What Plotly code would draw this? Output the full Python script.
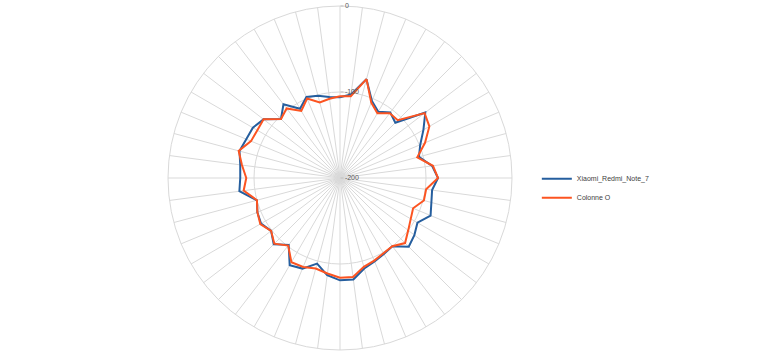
import plotly.graph_objects as go

categories = [str(i) for i in range(1, 49)]

xiaomi = [-106, -102, -81, -103, -111, -104, -109, -75, -88, -99, -105, -92,
          -86, -92, -90, -86, -96, -91, -87, -100, -98, -95, -91, -81,
          -81, -86, -97, -86, -83, -102, -91, -99, -94, -96, -100, -82,
          -84, -83, -79, -82, -83, -88, -103, -92, -107, -98, -101, -105]

colonne_o = [-105, -104, -81, -105, -113, -105, -105, -76, -80, -93, -107, -91,
             -86, -99, -99, -108, -105, -100, -93, -100, -99, -96, -93, -84,
             -84, -88, -91, -88, -87, -101, -92, -99, -93, -96, -100, -87,
             -91, -85, -78, -88, -89, -88, -103, -98, -110, -100, -109, -107]

radial_ticks = [-200, -100, 0]

fig = go.Figure()
for name, vals, color in [("Xiaomi_Redmi_Note_7", xiaomi, "#255e9e"),
                          ("Colonne O", colonne_o, "#fc5421")]:
    fig.add_trace(go.Scatterpolar(
        r=vals + vals[:1],
        theta=categories + categories[:1],
        mode="lines",
        name=name,
        line=dict(color=color, width=2),
    ))

W, H = 768, 355
cx, cy, R = 340, 178, 172
fig.update_layout(
    width=W, height=H,
    margin=dict(l=0, r=0, t=0, b=0),
    paper_bgcolor="white",
    plot_bgcolor="white",
    font=dict(family="Liberation Sans, Arial, sans-serif", color="#595959", size=7),
    polar=dict(
        domain=dict(x=[(cx - R) / W, (cx + R) / W],
                    y=[(H - cy - R) / H, (H - cy + R) / H]),
        bgcolor="white",
        angularaxis=dict(
            type="category",
            categoryarray=categories,
            direction="clockwise",
            rotation=90,
            showticklabels=False,
            ticks="",
            showgrid=True,
            gridcolor="#d9d9d9",
            gridwidth=1,
            showline=True,
            linecolor="#d9d9d9",
            linewidth=1,
        ),
        radialaxis=dict(
            range=[-200, 0],
            tickvals=radial_ticks,
            ticktext=[str(v) for v in radial_ticks],
            angle=90,
            tickangle=90,
            side="clockwise",
            showline=False,
            ticks="outside",
            ticklen=3,
            tickcolor="#bfbfbf",
            gridcolor="#d9d9d9",
            gridwidth=1,
            tickfont=dict(size=7, color="#595959"),
        ),
    ),
    legend=dict(
        x=0.699, y=0.47, xanchor="left", yanchor="middle",
        font=dict(size=7, color="#404040"),
        tracegroupgap=0,
        itemwidth=30,
        bgcolor="rgba(0,0,0,0)",
    ),
    showlegend=True,
)

fig.write_html("out.html")
